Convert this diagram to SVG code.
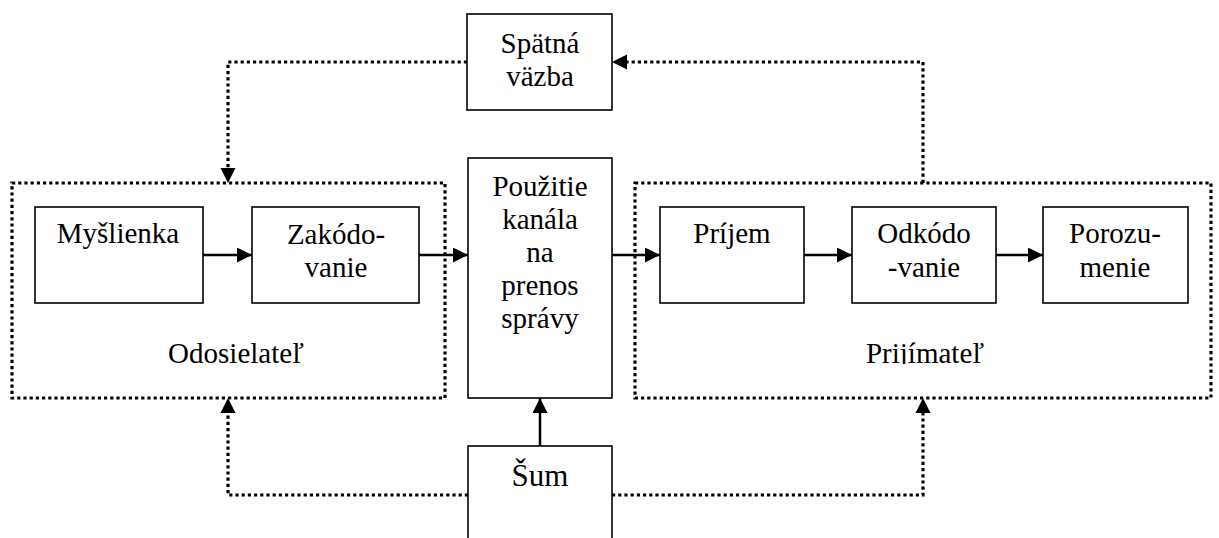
<svg xmlns="http://www.w3.org/2000/svg" width="1219" height="538" viewBox="0 0 1219 538" font-family="Liberation Serif, serif">
  <style>
    .box { fill: #fff; stroke: #000; stroke-width: 1.6; }
    .group { fill: none; stroke: #000; stroke-width: 3.2; stroke-dasharray: 3.2 3; }
    .dot { fill: none; stroke: #000; stroke-width: 3.2; stroke-dasharray: 3.2 3; }
    .solid { fill: none; stroke: #000; stroke-width: 2.5; }
    text { font-family: 'Liberation Serif', 'Times New Roman', serif; font-size: 29px; fill: #000; text-anchor: middle; }
  </style>
  <defs>
    <marker id="arrow" markerUnits="userSpaceOnUse" markerWidth="15" markerHeight="15" refX="15" refY="7.5" orient="auto">
      <path d="M0,0 L15,7.5 L0,15 Z" fill="#000" stroke="none"/>
    </marker>
    <clipPath id="clipRecv">
      <rect x="636" y="330" width="575" height="34"/>
    </clipPath>
  </defs>

  <rect width="1219" height="538" fill="#fff"/>

  <!-- sender and receiver groups -->
  <g id="sender">
    <rect class="group" x="12" y="183" width="433" height="215"/>
    <text x="236" y="363">Odosielateľ</text>
  </g>
  <g id="receiver">
    <rect class="group" x="635" y="183" width="576" height="215"/>
    <text x="925" y="363" clip-path="url(#clipRecv)">Prijímateľ</text>
  </g>

  <!-- connectors -->
  <g id="connectors">
    <!-- message flow -->
    <line class="solid" x1="203" y1="255" x2="252" y2="255" marker-end="url(#arrow)"/>
    <line class="solid" x1="419" y1="255" x2="468" y2="255" marker-end="url(#arrow)"/>
    <line class="solid" x1="612" y1="255" x2="660" y2="255" marker-end="url(#arrow)"/>
    <line class="solid" x1="804" y1="255" x2="852" y2="255" marker-end="url(#arrow)"/>
    <line class="solid" x1="996" y1="255" x2="1043" y2="255" marker-end="url(#arrow)"/>
    <!-- noise into channel -->
    <line class="solid" stroke-width="2" x1="540" y1="446" x2="540" y2="398" marker-end="url(#arrow)"/>
    <!-- feedback loop -->
    <polyline class="dot" points="923,183 923,62 626,62"/>
    <path d="M612,62 L627,54.5 L627,69.5 Z" fill="#000"/>
    <polyline class="dot" points="467,62 228,62 228,169"/>
    <path d="M228,183 L220.5,168 L235.5,168 Z" fill="#000"/>
    <!-- noise into sender and receiver -->
    <polyline class="dot" points="468,495 228,495 228,412"/>
    <path d="M228,398 L220.5,413 L235.5,413 Z" fill="#000"/>
    <polyline class="dot" points="612,495 923,495 923,412"/>
    <path d="M923,398 L915.5,413 L930.5,413 Z" fill="#000"/>
  </g>

  <g id="feedback">
    <rect class="box" x="467" y="14" width="145" height="96"/>
    <text x="540" y="53">Spätná</text>
    <text x="540" y="86">väzba</text>
  </g>

  <g id="thought">
    <rect class="box" x="35" y="207" width="168" height="96"/>
    <text x="118" y="243">Myšlienka</text>
  </g>

  <g id="encoding">
    <rect class="box" x="252" y="207" width="167" height="96"/>
    <text x="336" y="244">Zakódo-</text>
    <text x="336" y="277">vanie</text>
  </g>

  <g id="channel">
    <rect class="box" x="468" y="158" width="144" height="240"/>
    <text x="540" y="196">Použitie</text>
    <text x="540" y="229">kanála</text>
    <text x="540" y="262">na</text>
    <text x="540" y="295">prenos</text>
    <text x="540" y="328">správy</text>
  </g>

  <g id="reception">
    <rect class="box" x="660" y="207" width="144" height="96"/>
    <text x="732" y="243">Príjem</text>
  </g>

  <g id="decoding">
    <rect class="box" x="852" y="207" width="144" height="96"/>
    <text x="924" y="243">Odkódo</text>
    <text x="924" y="277">-vanie</text>
  </g>

  <g id="understanding">
    <rect class="box" x="1043" y="207" width="145" height="96"/>
    <text x="1115" y="243">Porozu-</text>
    <text x="1115" y="277">menie</text>
  </g>

  <g id="noise">
    <rect class="box" x="468" y="446" width="144" height="100"/>
    <text x="540" y="486" style="font-size:31px">Šum</text>
  </g>
</svg>
